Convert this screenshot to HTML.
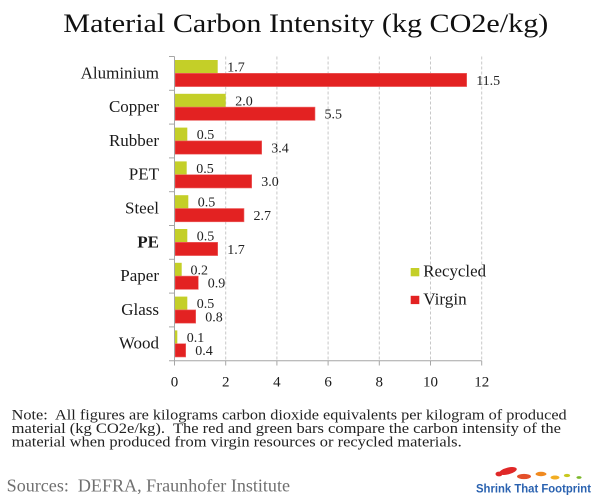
<!DOCTYPE html>
<html>
<head>
<meta charset="utf-8">
<style>
html,body{margin:0;padding:0;background:#fff;}
svg{display:block;}
text{font-family:"Liberation Serif",serif;}
</style>
</head>
<body>
<svg width="600" height="500" viewBox="0 0 600 500" xmlns="http://www.w3.org/2000/svg">
<rect width="600" height="500" fill="#fff"/>
<!-- Title -->
<text x="63.3" y="32" font-size="26" fill="#111" textLength="485" lengthAdjust="spacingAndGlyphs">Material Carbon Intensity (kg CO2e/kg)</text>

<!-- gridlines -->
<g stroke="#c8c8c8" stroke-width="1" stroke-dasharray="3,2">
<line x1="225.7" y1="56.5" x2="225.7" y2="360.7"/>
<line x1="276.9" y1="56.5" x2="276.9" y2="360.7"/>
<line x1="328.1" y1="56.5" x2="328.1" y2="360.7"/>
<line x1="379.3" y1="56.5" x2="379.3" y2="360.7"/>
<line x1="430.5" y1="56.5" x2="430.5" y2="360.7"/>
<line x1="481.7" y1="56.5" x2="481.7" y2="360.7"/>
</g>

<!-- bars -->
<g fill="#c4cf28">
<rect x="175" y="60" width="42.7" height="13.3"/>
<rect x="175" y="93.8" width="50.7" height="13.3"/>
<rect x="175" y="127.6" width="12.3" height="13.3"/>
<rect x="175" y="161.4" width="11.7" height="13.3"/>
<rect x="175" y="195.2" width="13.3" height="13.3"/>
<rect x="175" y="229" width="12.3" height="13.3"/>
<rect x="175" y="262.8" width="6.7" height="13.3"/>
<rect x="175" y="296.6" width="12.3" height="13.3"/>
<rect x="175" y="330.4" width="2.3" height="13.3"/>
</g>
<g fill="#e32222" stroke="#ee6b6b" stroke-width="0.6">
<rect x="175" y="73.3" width="291.7" height="13.3"/>
<rect x="175" y="107.1" width="140" height="13.3"/>
<rect x="175" y="140.9" width="86.7" height="13.3"/>
<rect x="175" y="174.7" width="76.7" height="13.3"/>
<rect x="175" y="208.5" width="69" height="13.3"/>
<rect x="175" y="242.3" width="42.7" height="13.3"/>
<rect x="175" y="276.1" width="23.3" height="13.3"/>
<rect x="175" y="309.9" width="20.7" height="13.3"/>
<rect x="175" y="343.7" width="10.7" height="13.3"/>
</g>

<!-- axes -->
<g stroke="#a6a6a6" stroke-width="1">
<line x1="174.5" y1="56.5" x2="174.5" y2="360.7"/>
<line x1="169" y1="56.5" x2="174.5" y2="56.5"/>
<line x1="169" y1="90.3" x2="174.5" y2="90.3"/>
<line x1="169" y1="124.1" x2="174.5" y2="124.1"/>
<line x1="169" y1="157.9" x2="174.5" y2="157.9"/>
<line x1="169" y1="191.7" x2="174.5" y2="191.7"/>
<line x1="169" y1="225.5" x2="174.5" y2="225.5"/>
<line x1="169" y1="259.3" x2="174.5" y2="259.3"/>
<line x1="169" y1="293.1" x2="174.5" y2="293.1"/>
<line x1="169" y1="326.9" x2="174.5" y2="326.9"/>
<line x1="169" y1="360.7" x2="481.7" y2="360.7"/>
<line x1="174.5" y1="360.7" x2="174.5" y2="365.5"/>
<line x1="225.7" y1="360.7" x2="225.7" y2="365.5"/>
<line x1="276.9" y1="360.7" x2="276.9" y2="365.5"/>
<line x1="328.1" y1="360.7" x2="328.1" y2="365.5"/>
<line x1="379.3" y1="360.7" x2="379.3" y2="365.5"/>
<line x1="430.5" y1="360.7" x2="430.5" y2="365.5"/>
<line x1="481.7" y1="360.7" x2="481.7" y2="365.5"/>
</g>

<!-- category labels -->
<g font-size="17" fill="#1a1a1a" text-anchor="end">
<text x="159" y="78.3">Aluminium</text>
<text x="159" y="112.1">Copper</text>
<text x="159" y="145.9">Rubber</text>
<text x="159" y="179.7">PET</text>
<text x="159" y="213.5">Steel</text>
<text x="159" y="247.3" font-weight="bold">PE</text>
<text x="159" y="281.1">Paper</text>
<text x="159" y="314.9">Glass</text>
<text x="159" y="348.7">Wood</text>
</g>

<!-- value labels -->
<g font-size="14" fill="#222">
<text x="227.2" y="71.5">1.7</text>
<text x="476.2" y="84.8">11.5</text>
<text x="235.2" y="105.3">2.0</text>
<text x="324.5" y="118.6">5.5</text>
<text x="196.8" y="139.1">0.5</text>
<text x="271.2" y="152.4">3.4</text>
<text x="196.2" y="172.9">0.5</text>
<text x="261.2" y="186.2">3.0</text>
<text x="197.8" y="206.7">0.5</text>
<text x="253.5" y="220">2.7</text>
<text x="196.8" y="240.5">0.5</text>
<text x="227.2" y="253.8">1.7</text>
<text x="190.5" y="274.3">0.2</text>
<text x="207.8" y="287.6">0.9</text>
<text x="196.8" y="308.1">0.5</text>
<text x="205.2" y="321.4">0.8</text>
<text x="186.8" y="341.9">0.1</text>
<text x="195.2" y="355.2">0.4</text>
</g>

<!-- x tick labels -->
<g font-size="15" fill="#1a1a1a" text-anchor="middle">
<text x="174.5" y="386.7">0</text>
<text x="225.7" y="386.7">2</text>
<text x="276.9" y="386.7">4</text>
<text x="328.1" y="386.7">6</text>
<text x="379.3" y="386.7">8</text>
<text x="430.5" y="386.7">10</text>
<text x="481.7" y="386.7">12</text>
</g>

<!-- legend -->
<rect x="410.7" y="268" width="8.6" height="8.3" fill="#c4cf28"/>
<text x="423.3" y="276.7" font-size="16.5" fill="#1a1a1a" textLength="62.7" lengthAdjust="spacingAndGlyphs">Recycled</text>
<rect x="410.7" y="295.8" width="8.6" height="8.3" fill="#e32222"/>
<text x="423.3" y="304.4" font-size="16.5" fill="#1a1a1a" textLength="43.4" lengthAdjust="spacingAndGlyphs">Virgin</text>

<!-- note -->
<g font-size="14.5" fill="#222">
<text x="11.7" y="419.3" textLength="555" lengthAdjust="spacingAndGlyphs">Note:&#160; All figures are kilograms carbon dioxide equivalents per kilogram of produced</text>
<text x="11.7" y="432.8" textLength="549.3" lengthAdjust="spacingAndGlyphs">material (kg CO2e/kg).&#160; The red and green bars compare the carbon intensity of the</text>
<text x="11.7" y="446.5" textLength="450" lengthAdjust="spacingAndGlyphs">material when produced from virgin resources or recycled materials.</text>
</g>

<!-- sources -->
<text x="6.7" y="491.7" font-size="18" fill="#707070" textLength="283.3" lengthAdjust="spacingAndGlyphs">Sources:&#160; DEFRA, Fraunhofer Institute</text>

<!-- logo -->
<g>
<ellipse cx="508" cy="471" rx="9" ry="3.4" fill="#e02828" transform="rotate(-14 508 471)"/>
<ellipse cx="499" cy="474" rx="3.5" ry="2.4" fill="#e02828"/>
<ellipse cx="524" cy="476.5" rx="7" ry="2.6" fill="#e4502a"/>
<ellipse cx="541" cy="474" rx="5.5" ry="2.2" fill="#f08a20"/>
<ellipse cx="555" cy="477.5" rx="4.5" ry="2" fill="#f2ad22"/>
<ellipse cx="567" cy="475.5" rx="3.2" ry="1.6" fill="#c8c820"/>
<ellipse cx="579" cy="477.5" rx="2.6" ry="1.4" fill="#7cb82a"/>
<text x="476" y="492.5" style="font-family:'Liberation Sans',sans-serif;font-weight:bold" font-size="12" fill="#2a62b0" textLength="115" lengthAdjust="spacingAndGlyphs">Shrink That Footprint</text>
</g>
</svg>
</body>
</html>
